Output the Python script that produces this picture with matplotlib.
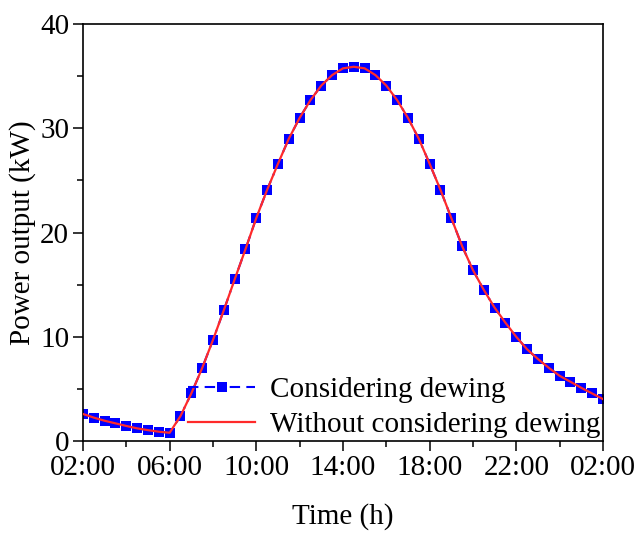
import matplotlib
matplotlib.use("Agg")
import matplotlib.pyplot as plt
from matplotlib.ticker import MultipleLocator

plt.rcParams["font.family"] = ["Liberation Serif", "DejaVu Serif"]

# half-hourly samples, 02:00 to 02:00 next day
hours = [2.0, 2.5, 3.0, 3.5, 4.0, 4.5, 5.0, 5.5, 6.0, 6.5, 7.0, 7.5, 8.0,
         8.5, 9.0, 9.5, 10.0, 10.5, 11.0, 11.5, 12.0, 12.5, 13.0, 13.5, 14.0,
         14.5, 15.0, 15.5, 16.0, 16.5, 17.0, 17.5, 18.0, 18.5, 19.0, 19.5,
         20.0, 20.5, 21.0, 21.5, 22.0, 22.5, 23.0, 23.5, 24.0, 24.5, 25.0,
         25.5, 26.0]

with_dewing = [2.6, 2.25, 1.95, 1.7, 1.45, 1.22, 1.05, 0.9, 0.8, 2.4, 4.57,
               7.0, 9.7, 12.55, 15.5, 18.4, 21.4, 24.1, 26.6, 29.0, 31.0,
               32.7, 34.1, 35.1, 35.75, 35.9, 35.75, 35.1, 34.1, 32.7, 31.0,
               29.0, 26.6, 24.1, 21.4, 18.7, 16.4, 14.5, 12.8, 11.35, 10.0,
               8.8, 7.87, 7.03, 6.26, 5.69, 5.11, 4.57, 4.03]

without_dewing = [2.6, 2.25, 1.95, 1.7, 1.45, 1.22, 1.05, 0.9, 0.8, 2.4, 4.57,
                  7.0, 9.7, 12.55, 15.5, 18.4, 21.4, 24.1, 26.6, 29.0, 31.0,
                  32.7, 34.1, 35.1, 35.75, 35.9, 35.75, 35.1, 34.1, 32.7, 31.0,
                  29.0, 26.6, 24.1, 21.4, 18.7, 16.4, 14.5, 12.8, 11.35, 10.0,
                  8.8, 7.87, 7.03, 6.26, 5.69, 5.11, 4.57, 4.03]

tick_pos = [2, 6, 10, 14, 18, 22, 26]
tick_labels = ["02:00", "06:00", "10:00", "14:00", "18:00", "22:00", "02:00"]
minor_pos = [4, 8, 12, 16, 20, 24]

fig = plt.figure(figsize=(6.36, 5.34), dpi=100)
ax = fig.add_axes([0.1305, 0.174, 0.8175, 0.781])

ax.plot(hours, with_dewing, color="#0000ff", linestyle=(0, (5, 3, 5, 3, 1, 3)),
        linewidth=1.5, marker="s", markersize=7.3, markeredgewidth=0,
        label="Considering dewing", zorder=2)
ax.plot(hours, without_dewing, color="#ff2a2a", linewidth=1.6,
        label="Without considering dewing", zorder=3)

ax.set_xlim(2, 26)
ax.set_ylim(0, 40)
ax.set_xticks(tick_pos)
ax.set_xticklabels(tick_labels)
ax.set_xticks(minor_pos, minor=True)
ax.yaxis.set_major_locator(MultipleLocator(10))
ax.yaxis.set_minor_locator(MultipleLocator(5))

ax.tick_params(which="both", direction="out", top=False, right=False,
               labelsize=21, width=1.1, pad=3)
ax.tick_params(which="major", length=7)
ax.tick_params(which="minor", length=4)
for s in ax.spines.values():
    s.set_linewidth(1.2)

ax.set_xlabel("Time (h)", fontsize=21, labelpad=16)
ax.set_ylabel("Power output (kW)", fontsize=21, labelpad=3)

ax.legend(loc="lower right", frameon=False, fontsize=21, handlelength=2.3,
          handletextpad=0.5, borderaxespad=0.0, borderpad=0.1, labelspacing=0.3)

fig.savefig("out.png", dpi=100)
